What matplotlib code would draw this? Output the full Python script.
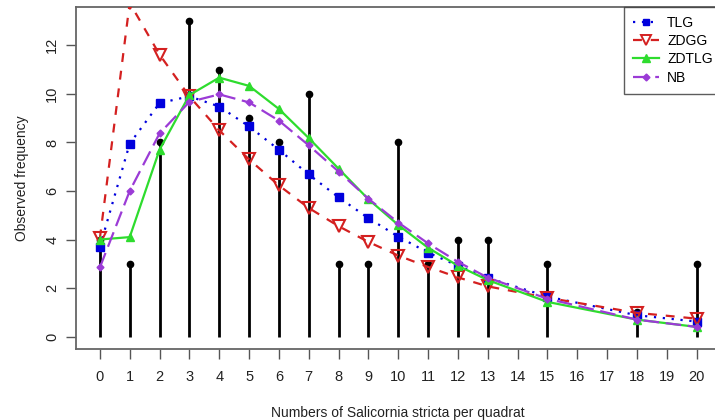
import matplotlib
matplotlib.use("Agg")
import matplotlib.pyplot as plt
from matplotlib.lines import Line2D

plt.rcParams['font.family'] = ['Liberation Sans', 'DejaVu Sans']

# Observed counts per quadrat
obs_x = [0, 1, 2, 3, 4, 5, 6, 7, 8, 9, 10, 11, 12, 13, 15, 18, 20]
obs_freq = [4, 3, 8, 13, 11, 9, 8, 10, 3, 3, 8, 3, 4, 4, 3, 1, 3]

# Fitted frequencies for each model
tlg = [3.7, 7.95, 9.62, 9.9, 9.48, 8.66, 7.7, 6.68, 5.74, 4.88, 4.12, 3.46, 2.92, 2.42, 1.65, 0.88, 0.62]
zdgg = [4.05, 13.75, 11.62, 9.9, 8.5, 7.3, 6.23, 5.3, 4.55, 3.9, 3.34, 2.87, 2.44, 2.07, 1.6, 0.98, 0.74]
zdtlg = [4.0, 4.1, 7.7, 9.95, 10.67, 10.33, 9.38, 8.18, 6.92, 5.66, 4.6, 3.66, 2.92, 2.33, 1.43, 0.7, 0.4]
nb = [2.85, 6.0, 8.37, 9.67, 9.98, 9.65, 8.9, 7.88, 6.8, 5.68, 4.7, 3.84, 3.08, 2.43, 1.56, 0.7, 0.4]

ticks = list(range(0, 21))

W, H = 715, 420
fig = plt.figure(figsize=(W / 100, H / 100), dpi=100)
ax = fig.add_axes([76 / W, (H - 349) / H, (720.5 - 76) / W, (349 - 7) / H])

# Observed frequencies as vertical stems with a dot on top
ax.vlines(obs_x, 0, obs_freq, color='black', lw=2.0, zorder=2)
ax.plot(obs_x, obs_freq, 'o', color='black', ms=4.5, zorder=2)

lw = 1.6
ax.plot(obs_x, tlg, color='#0000DD', ls=(0, (1, 3)), lw=lw, marker='s', ms=5.5,
        mfc='#0000DD', mec='#0000DD', zorder=3, label='TLG')
ax.plot(obs_x, zdgg, color='#D42020', ls=(0, (4, 4)), lw=lw, marker='v', ms=8,
        mfc='none', mec='#D42020', mew=1.5, zorder=3, label='ZDGG')
ax.plot(obs_x, zdtlg, color='#2EDC2E', ls='-', lw=lw, marker='^', ms=6,
        mfc='#2EDC2E', mec='#2EDC2E', zorder=3, label='ZDTLG')
ax.plot(obs_x, nb, color='#9B3BD6', ls=(0, (7, 3)), lw=lw, marker='D', ms=3.5,
        mfc='#9B3BD6', mec='#9B3BD6', zorder=3, label='NB')

ax.set_xlim(-0.8, 20.8)
ax.set_ylim(-0.51, 13.58)
ax.set_xticks(ticks)
ax.set_yticks([0, 2, 4, 6, 8, 10, 12])
for s in ax.spines.values():
    s.set_color('#666666')
    s.set_linewidth(1.3)
ax.tick_params(axis='both', colors='#555555', length=7, width=1.0,
               labelsize=10.5, labelcolor='#222222')
ax.tick_params(axis='x', pad=8)
ax.tick_params(axis='y', pad=5)
for lbl in ax.get_yticklabels():
    lbl.set_rotation(90)
    lbl.set_va('center')

ax.set_xlabel('Numbers of Salicornia stricta per quadrat', fontsize=10,
              color='#222222', labelpad=16)
ax.set_ylabel('Observed frequency', fontsize=10, color='#222222', labelpad=12)

handles = [
    Line2D([], [], color='#0000DD', ls=(0, (1, 3)), lw=lw, marker='s', ms=5),
    Line2D([], [], color='#D42020', ls=(0, (4, 4)), lw=lw, marker='v', ms=6.5,
           mfc='none', mew=1.4),
    Line2D([], [], color='#2EDC2E', ls='-', lw=lw, marker='^', ms=5.5),
    Line2D([], [], color='#9B3BD6', ls=(0, (7, 3)), lw=lw, marker='D', ms=3.5),
]
leg = fig.legend(handles, ['TLG', 'ZDGG', 'ZDTLG', 'NB'],
                 loc='upper left', bbox_to_anchor=(624 / W, 1 - 7 / H),
                 fontsize=10, frameon=True, fancybox=False, handlelength=1.9,
                 handletextpad=0.55, labelspacing=0.3, borderpad=0.65,
                 borderaxespad=0)
leg.get_frame().set_edgecolor('#333333')
leg.get_frame().set_linewidth(1.0)

fig.savefig('out.png', dpi=100)
